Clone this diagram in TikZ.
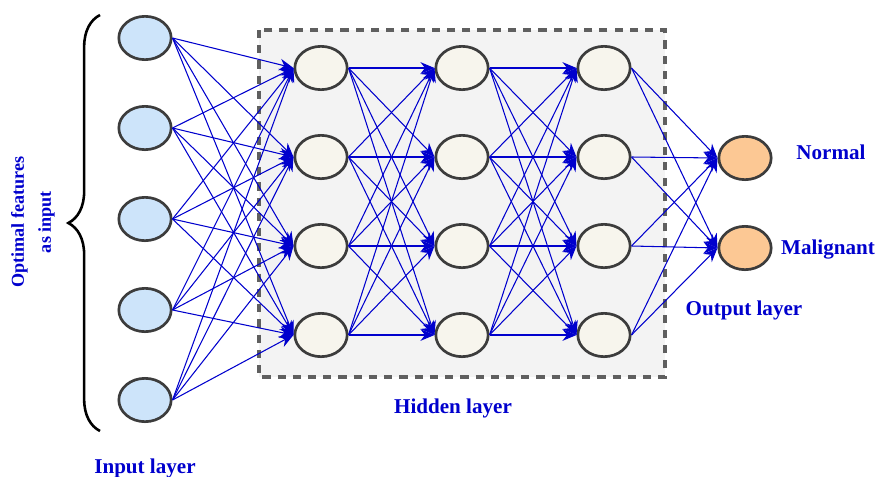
\documentclass[tikz,border=0pt]{standalone}
\usepackage{fontspec}
\setmainfont{Liberation Serif}
\usetikzlibrary{
  arrows.meta, positioning,
  decorations.pathreplacing,
  shapes.geometric
}

\definecolor{inblue}{RGB}{205,228,250}
\definecolor{hidcream}{RGB}{247,245,237}
\definecolor{outorange}{RGB}{252,200,148}
\definecolor{synblue}{RGB}{0,0,205}
\definecolor{rimgray}{RGB}{60,60,60}
\definecolor{boxgray}{RGB}{243,243,243}
\definecolor{dashgray}{RGB}{95,95,95}

\tikzset{
  neuron/.style={ellipse, draw=rimgray, line width=2.3pt, inner sep=0pt,
    minimum width=1.57cm, minimum height=1.3cm},
  inp/.style={neuron, fill=inblue},
  hid/.style={neuron, fill=hidcream},
  outp/.style={neuron, fill=outorange},
  syn/.style={draw=synblue, line width=0.9pt, -{Stealth[length=12pt,width=10pt]}},
  lbl/.style={text=synblue, font=\bfseries\fontsize{18}{21}\selectfont}
}

\begin{document}
\begin{tikzpicture}[x=0.03cm,y=-0.03cm]
  \useasboundingbox (0,0) rectangle (889,477);

  % hidden block
  \draw[fill=boxgray, draw=dashgray, line width=2.6pt, dash pattern=on 7pt off 6pt]
    (259,30) rectangle (665,377);

  % layers
  \foreach \k/\y in {1/38,2/128,3/219,4/310,5/400}
    \node[inp] (i_\k) at (145,\y) {};
  \foreach \k/\y in {1/68,2/157,3/246,4/335} {
    \node[hid] (a_\k) at (321,\y) {};
    \node[hid] (b_\k) at (462,\y) {};
    \node[hid] (c_\k) at (604,\y) {};
  }
  \node[outp] (o_1) at (745,158) {};
  \node[outp] (o_2) [below=2.7cm of o_1.center, anchor=center] {};

  % connections
  \foreach \s in {1,...,5}
    \foreach \t in {1,...,4}
      \draw[syn] (i_\s.east) -- (a_\t.west);
  \foreach \s in {1,...,4}
    \foreach \t in {1,...,4} {
      \draw[syn] (a_\s.east) -- (b_\t.west);
      \draw[syn] (b_\s.east) -- (c_\t.west);
    }
  \foreach \s in {1,...,4}
    \foreach \t in {1,2}
      \draw[syn] (c_\s.east) -- (o_\t.west);

  % brace over the inputs
  \draw[line width=2.2pt, decorate, decoration={brace, amplitude=0.95cm}]
    (100,431) -- (100,15);

  % labels
  \node[lbl] (normal) at (831,152) {Normal};
  \node[lbl] (malig) at (828,250) {Malignant};
  \node[lbl] (outlab) at (744,310) {Output layer};
  \node[lbl] (hidlab) at (453,408) {Hidden layer};
  \node[lbl] (inlab) at (145,468) {Input layer};
  \node[lbl, font=\bfseries\fontsize{15.5}{23}\selectfont, rotate=90, align=center]
    (feat) at (33,222) {Optimal features\\as input};
\end{tikzpicture}
\end{document}
